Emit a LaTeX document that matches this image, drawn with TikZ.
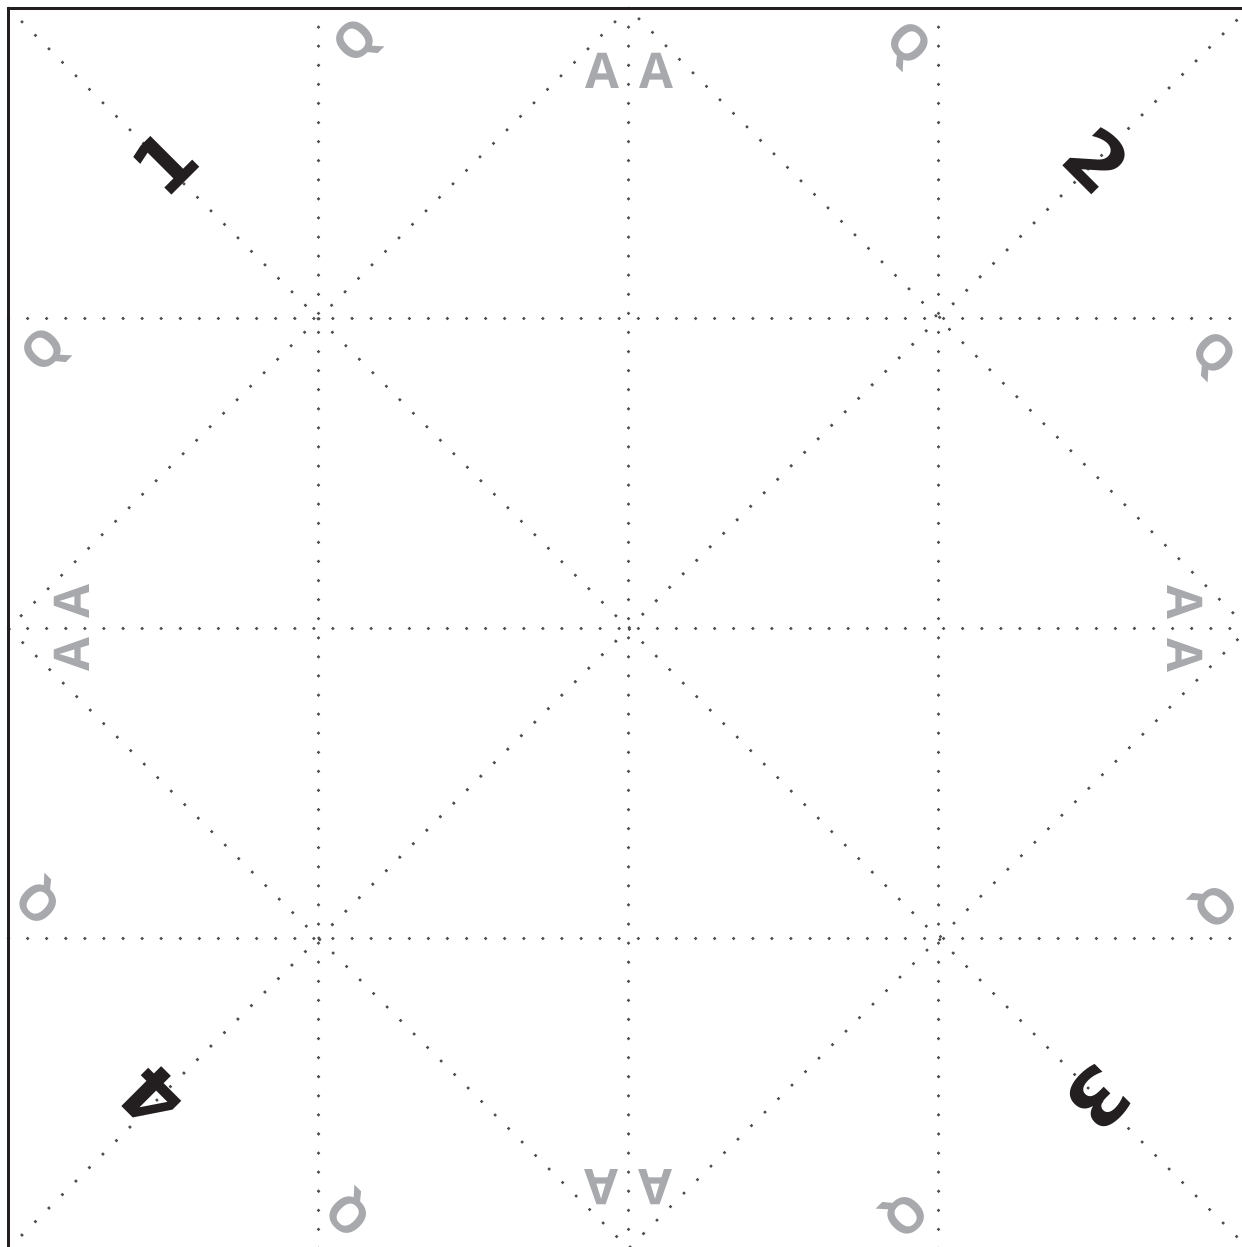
\documentclass[tikz,border=0pt]{standalone}
\usepackage{fontspec}
\setmainfont{DejaVu Sans}
\newfontfamily\letterfont{Open Sans}
\usetikzlibrary{calc}
\definecolor{foldcolor}{RGB}{80, 80, 82}
\definecolor{edgecolor}{RGB}{35, 31, 32}
\definecolor{numbercolor}{RGB}{35, 31, 32}
\definecolor{lettercolor}{RGB}{167, 169, 172}
\tikzset{
foldline/.style={
  draw=foldcolor,
  line width=1pt,
  line cap=round,
  dash pattern=on 0pt off 5.43pt
},
edgeline/.style={
  draw=edgecolor,
  line width=0.8pt
},
numberlabel/.style={
  font=\bfseries\fontsize{22}{26}\selectfont,
  text=numbercolor,
  inner sep=0pt
},
letterlabel/.style={
  font=\letterfont\bfseries\fontsize{14}{17}\selectfont,
  text=lettercolor,
  inner sep=0pt
}
}

\begin{document}
\begin{tikzpicture}
  \useasboundingbox (0,0) rectangle (12.41,12.47);
  \begin{scope}[shift={(0.085,-0.015)}, x=3.1cm, y=3.1cm]
    \coordinate (sw) at (0,0);
    \coordinate (se) at (4,0);
    \coordinate (ne) at (4,4);
    \coordinate (nw) at (0,4);
    \coordinate (n) at (2,4);
    \coordinate (s) at (2,0);
    \coordinate (w) at (0,2);
    \coordinate (e) at (4,2);
    \foreach \k in {1,2,3} {
      \draw[foldline] (\k,0) -- (\k,4);
      \draw[foldline] (0,\k) -- (4,\k);
    }
    \draw[foldline] (sw) -- (ne);
    \draw[foldline] (nw) -- (se);
    \draw[foldline] (n) -- (w) -- (s) -- (e) -- cycle;
    \draw[edgeline] (sw) rectangle (ne);
  \end{scope}

  % numbers
  \node[numberlabel, rotate=45] (num1) at (1.65,10.84) {1};
  \node[numberlabel, rotate=-45] (num2) at (10.98,10.87) {2};
  \node[numberlabel, rotate=-135] (num3) at (10.98,1.49) {3};
  \node[numberlabel, rotate=135] (num4) at (1.53,1.50) {4};

  % answer flaps
  \node[letterlabel] (atopl) at (6.02,11.76) {A};
  \node[letterlabel] (atopr) at (6.56,11.76) {A};
  \node[letterlabel, rotate=90] (aleftt) at (0.72,6.45) {A};
  \node[letterlabel, rotate=90] (aleftb) at (0.72,5.92) {A};
  \node[letterlabel, rotate=-90] (arightt) at (11.85,6.45) {A};
  \node[letterlabel, rotate=-90] (arightb) at (11.85,5.92) {A};
  \node[letterlabel, rotate=180] (abotl) at (6.02,0.60) {A};
  \node[letterlabel, rotate=180] (abotr) at (6.56,0.60) {A};

  % question flaps
  \node[letterlabel, rotate=45] (qtopl) at (3.58,12.04) {Q};
  \node[letterlabel, rotate=-45] (qtopr) at (9.07,12.01) {Q};
  \node[letterlabel, rotate=45] (qleftt) at (0.46,8.95) {Q};
  \node[letterlabel, rotate=-45] (qrightt) at (12.12,8.91) {Q};
  \node[letterlabel, rotate=135] (qleftb) at (0.41,3.47) {Q};
  \node[letterlabel, rotate=-135] (qrightb) at (12.13,3.43) {Q};
  \node[letterlabel, rotate=135] (qbotl) at (3.51,0.35) {Q};
  \node[letterlabel, rotate=-135] (qbotr) at (9.03,0.34) {Q};
\end{tikzpicture}
\end{document}
